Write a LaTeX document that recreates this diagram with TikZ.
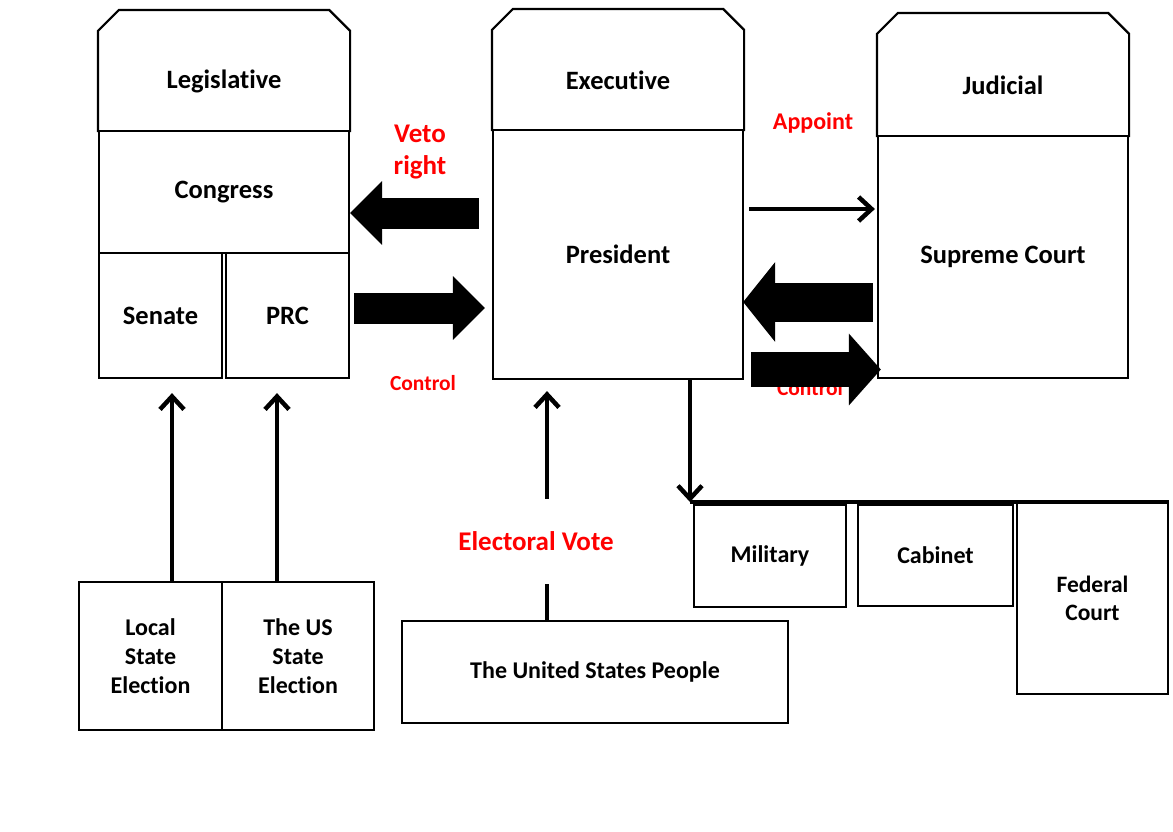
\documentclass[tikz,border=0pt]{standalone}
\usepackage{fontspec}
\setmainfont[Ligatures=NoCommon]{Carlito}
\usetikzlibrary{arrows.meta}

\begin{document}
\begin{tikzpicture}[x=1pt, y=-1pt,
    box/.style={draw, line width=2.2pt, inner sep=0pt, align=center, font=\fontsize{24}{29}\selectfont\bfseries},
    branch/.style={box, font=\fontsize{26.5}{32}\selectfont\bfseries},
    head/.style={branch, draw=none},
    redlbl/.style={text=red, align=center, font=\fontsize{21.5}{32}\selectfont\bfseries},
    blockarrow/.style={line width=#1, -{Triangle[length=32pt, width=0pt 2]}},
    blockarrow/.default=31pt,
    linearrow/.style={line width=4.5pt, -{Straight Barb[length=13pt, width=24pt]}}]

    \useasboundingbox (0,0) rectangle (1173,831);

    % Legislative
    \node[head, minimum width=250pt, minimum height=99pt] (legis) at (224,81.5) {Legislative};
    \node[branch, minimum width=250pt, minimum height=122pt] (congress) at (224,192) {Congress};
    \node[branch, minimum width=123pt, minimum height=125pt] (senate) at (160.5,315.5) {Senate};
    \node[branch, minimum width=123pt, minimum height=125pt] (prc) at (287.5,315.5) {PRC};
    \draw[line width=2.2pt] (legis.south west) -- (legis.north west) -- ++(21,-21)
        -- ([shift={(-21pt,21pt)}]legis.north east) -- (legis.north east) -- (legis.south east);

    % Executive
    \node[head, minimum width=250pt, minimum height=99pt] (exec) at (618,80.5) {Executive};
    \node[branch, minimum width=250pt, minimum height=249pt] (pres) at (618,254.5) {President};
    \draw[line width=2.2pt] (exec.south west) -- (exec.north west) -- ++(21,-21)
        -- ([shift={(-21pt,21pt)}]exec.north east) -- (exec.north east) -- (exec.south east);

    % Judicial
    \node[head, minimum width=250pt, minimum height=101pt] (judic) at (1003,85.5) {Judicial};
    \node[branch, minimum width=250pt, minimum height=242pt] (supreme) at (1003,257) {Supreme Court};
    \draw[line width=2.2pt] (judic.south west) -- (judic.north west) -- ++(21,-21)
        -- ([shift={(-21pt,21pt)}]judic.north east) -- (judic.north east) -- (judic.south east);

    % under the President
    \node[box, minimum width=152pt, minimum height=102pt] (military) at (770,556) {Military};
    \node[box, minimum width=155pt, minimum height=101pt] (cabinet) at (935.5,555.5) {Cabinet};
    \node[box, font=\fontsize{23.5}{28}\selectfont\bfseries, minimum width=151pt, minimum height=191pt] (federal) at (1092.5,598.5) {Federal\\Court};

    % elections and people
    \node[box, minimum width=143pt, minimum height=148pt] (local) at (150.5,656) {Local\\State\\Election};
    \node[box, minimum width=152pt, minimum height=148pt] (usstate) at (298,656) {The US\\State\\Election};
    \node[box, minimum width=386pt, minimum height=102pt] (people) at (595,672) {The United States People};

    % red labels
    \node[redlbl, font=\fontsize{27}{32}\selectfont\bfseries] (veto) at (420,152) {Veto\\right};
    \node[redlbl] (ctrlleft) at (423,383) {Control};
    \node[redlbl, font=\fontsize{24}{28}\selectfont\bfseries] (appoint) at (813,123) {Appoint};
    \node[redlbl] (ctrlright) at (810,388) {Control};
    \node[redlbl, font=\fontsize{27}{32}\selectfont\bfseries] (electoral) at (536,541) {Electoral Vote};

    % block arrows
    \draw[blockarrow] ([shift={(-13pt,41.5pt)}]pres.west) -- ([yshift=-21pt]congress.east);
    \draw[blockarrow] ([shift={(4pt,7.5pt)}]prc.east) -- ([shift={(-7pt,-53.5pt)}]pres.west);
    \draw[blockarrow=39pt] ([shift={(-4pt,-45pt)}]supreme.west) -- ([shift={(-1pt,-47.5pt)}]pres.east);
    \draw[blockarrow=35pt] ([shift={(7pt,-115pt)}]pres.east) -- ([shift={(4pt,-112.5pt)}]supreme.west);

    % line arrows
    \draw[linearrow] ([shift={(5pt,45.5pt)}]pres.east) -- ([shift={(-2pt,48pt)}]supreme.west);
    \coordinate (bus) at (690,502);
    \draw[linearrow] ([xshift=72pt]pres.south) -- (bus);
    \draw[line width=4pt] (bus) -- (federal.north east |- bus);
    \draw[linearrow] ([xshift=21.5pt]local.north) -- ([shift={(11.5pt,-14pt)}]senate.south);
    \draw[linearrow] ([xshift=-21pt]usstate.north) -- ([shift={(-10.5pt,-14pt)}]prc.south);
    \draw[line width=4.5pt] ([xshift=-48pt]people.north) -- ++(0,-36);
    \draw[linearrow] ([shift={(-48pt,121pt)}]people.north) -- ([shift={(-71pt,-11pt)}]pres.south);

\end{tikzpicture}
\end{document}
